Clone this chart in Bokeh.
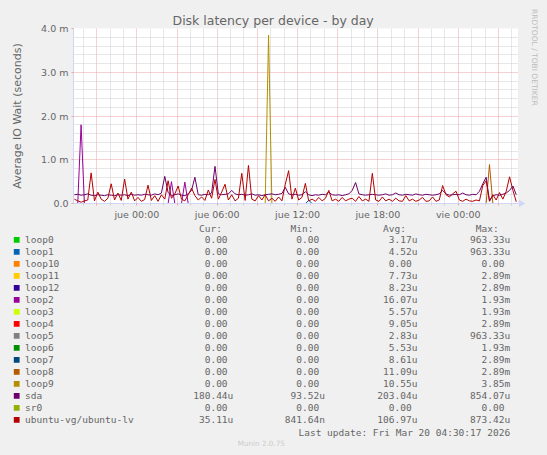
import math
from bokeh.plotting import figure
from bokeh.layouts import column, row
from bokeh.models import Range1d, FixedTicker
from bokeh.embed import file_html
from bokeh.resources import INLINE
from bokeh.core.properties import value

# ---------------- data (values in milliseconds) ----------------
# one sample every 15 min; first sample Wed 19:20 (hours relative to "jue 00:00")
first_sample_h = -4.0 - 40.0 / 60.0
sample_step_h = 0.25

ubuntu_lv_ms = [
    0.10, 0.06, 0.03, 0.06, 0.08, 0.70, 0.06, 0.26, 0.10, 0.05,
    0.12, 0.45, 0.08, 0.24, 0.07, 0.56, 0.10, 0.26, 0.06, 0.14,
    0.05, 0.09, 0.42, 0.07, 0.18, 0.05, 0.20, 0.10, 0.52, 0.12,
    0.22, 0.40, 0.10, 0.06, 0.20, 0.35, 0.18, 0.08, 0.15, 0.07,
    0.31, 0.12, 0.55, 0.10, 0.26, 0.44, 0.08, 0.20, 0.06, 0.12,
    0.69, 0.07, 0.87, 0.10, 0.06, 0.18, 0.08, 0.20, 0.06, 0.12,
    0.05, 0.15, 0.06, 0.44, 0.75, 0.10, 0.35, 0.08, 0.14, 0.46,
    0.06, 0.10, 0.05, 0.14, 0.06, 0.12, 0.30, 0.06, 0.10, 0.05,
    0.14, 0.06, 0.10, 0.12, 0.05, 0.16, 0.06, 0.10, 0.05, 0.69,
    0.08, 0.05, 0.15, 0.06, 0.10, 0.05, 0.12, 0.06, 0.05, 0.18,
    0.06, 0.10, 0.05, 0.08, 0.14, 0.05, 0.06, 0.15, 0.05, 0.08,
    0.41, 0.20, 0.15, 0.22, 0.28, 0.08, 0.05, 0.10, 0.06, 0.05,
    0.08, 0.06, 0.41, 0.52, 0.05, 0.20, 0.08, 0.25, 0.10, 0.28,
    0.61, 0.30, 0.04,
]

sda_ms = [
    0.20, 0.21, 0.19, 0.20, 0.22, 0.19, 0.18, 0.20, 0.19, 0.18,
    0.20, 0.19, 0.18, 0.20, 0.19, 0.20, 0.18, 0.21, 0.19, 0.20,
    0.19, 0.21, 0.20, 0.19, 0.22, 0.20, 0.24, 0.62, 0.25, 0.18,
    0.20, 0.22, 0.19, 0.18, 0.22, 0.30, 0.60, 0.20, 0.19, 0.21,
    0.20, 0.24, 0.85, 0.22, 0.20, 0.21, 0.22, 0.30, 0.22, 0.20,
    0.21, 0.19, 0.20, 0.22, 0.19, 0.20, 0.18, 0.20, 0.21, 0.22,
    0.20, 0.21, 0.23, 0.37, 0.22, 0.20, 0.21, 0.19, 0.20, 0.27,
    0.20, 0.18, 0.20, 0.19, 0.21, 0.20, 0.26, 0.20, 0.19, 0.20,
    0.18, 0.20, 0.22, 0.30, 0.48, 0.22, 0.20, 0.19, 0.20, 0.21,
    0.20, 0.19, 0.20, 0.22, 0.19, 0.20, 0.24, 0.20, 0.19, 0.21,
    0.20, 0.19, 0.22, 0.20, 0.19, 0.21, 0.20, 0.19, 0.20, 0.22,
    0.30, 0.22, 0.19, 0.20, 0.21, 0.20, 0.24, 0.20, 0.19, 0.21,
    0.20, 0.28, 0.45, 0.60, 0.06, 0.18, 0.20, 0.19, 0.21, 0.24,
    0.30, 0.40, 0.20,
]

# sparse series: {sample index: value in ms}, zero elsewhere
loop1_spikes_ms = {70: 0.07}
loop2_spikes_ms = {2: 1.80, 29: 0.50, 33: 0.49}
loop8_spikes_ms = {124: 0.89}
loop9_spikes_ms = {58: 3.85}

series_names = ["loop0", "loop1", "loop10", "loop11", "loop12", "loop2", "loop3",
                "loop4", "loop5", "loop6", "loop7", "loop8", "loop9", "sda", "sr0",
                "ubuntu-vg/ubuntu-lv"]
series_colors = ["#00CC00", "#0066B3", "#FF8000", "#FFCC00", "#330099", "#990099",
                 "#CCFF00", "#FF0000", "#808080", "#008F00", "#00487D", "#B35A00",
                 "#B38F00", "#6B006B", "#8FB300", "#B30000"]
cur_values = ["0.00", "0.00", "0.00", "0.00", "0.00", "0.00", "0.00", "0.00",
              "0.00", "0.00", "0.00", "0.00", "0.00", "180.44u", "0.00", "35.11u"]
min_values = ["0.00", "0.00", "0.00", "0.00", "0.00", "0.00", "0.00", "0.00",
              "0.00", "0.00", "0.00", "0.00", "0.00", "93.52u", "0.00", "841.64n"]
avg_values = ["3.17u", "4.52u", "0.00", "7.73u", "8.23u", "16.07u", "5.57u", "9.05u",
              "2.83u", "5.53u", "8.61u", "11.09u", "10.55u", "203.04u", "0.00", "106.97u"]
max_values = ["963.33u", "963.33u", "0.00", "2.89m", "2.89m", "1.93m", "1.93m", "2.89m",
              "963.33u", "1.93m", "2.89m", "2.89m", "3.85m", "854.07u", "0.00", "873.42u"]

x_label_hours = [0, 6, 12, 18, 24]
x_tick_labels = ["jue 00:00", "jue 06:00", "jue 12:00", "jue 18:00", "vie 00:00"]
y_tick_values = [0.0, 0.001, 0.002, 0.003, 0.004]
y_tick_labels = ["0.0", "1.0 m", "2.0 m", "3.0 m", "4.0 m"]

title_text = "Disk latency per device - by day"
y_label_text = "Average IO Wait (seconds)"
side_text = "RRDTOOL / TOBI OETIKER"
last_update_text = "Last update: Fri Mar 20 04:30:17 2026"
version_text = "Munin 2.0.75"

# ---------------- styling ----------------
FONT = "DejaVu Sans"
MONO = "DejaVu Sans Mono"
FONT_COLOR = "#666666"
AXIS_COLOR = "#CFD6F8"
MGRID = "#EBA3A3"
GRID = "#CFCFCF"
BG = "#F0F0F0"

X0, X1 = -4.733, 28.5
Y0, Y1 = 0.0, 0.004

n = len(sda_ms)
hours = [first_sample_h + i * sample_step_h for i in range(n)]
dense = {"sda": sda_ms, "ubuntu-vg/ubuntu-lv": ubuntu_lv_ms}
sparse = {"loop1": loop1_spikes_ms, "loop2": loop2_spikes_ms,
          "loop8": loop8_spikes_ms, "loop9": loop9_spikes_ms}

# ---------------- main chart (page x 8..518, y 8..222) ----------------
p = figure(width=510, height=214,
           x_range=Range1d(X0, X1), y_range=Range1d(Y0, Y1),
           output_backend="svg", toolbar_location=None, frame_align=False,
           min_border_left=59, min_border_right=0, min_border_top=20, min_border_bottom=19,
           background_fill_color="white", border_fill_color=BG, outline_line_color=None)

p.title.text = title_text
p.title.align = "left"
p.title.offset = 99
p.title.standoff = 1
p.title.text_font = FONT
p.title.text_font_size = "12.5px"
p.title.text_font_style = "normal"
p.title.text_color = FONT_COLOR

# grids
maj_x = list(range(-3, 29, 3))
min_x = [h for h in range(-4, 29) if h % 3]
p.xgrid.ticker = FixedTicker(ticks=maj_x, minor_ticks=min_x)
y_minor = [k * 0.0002 for k in range(1, 20) if k % 5]
for g in (p.xgrid, p.ygrid):
    g.grid_line_color = MGRID
    g.grid_line_dash = "1 1"
    g.grid_line_width = 1
    g.minor_grid_line_color = GRID
    g.minor_grid_line_dash = "1 1"
    g.minor_grid_line_width = 1

# x axis
p.xaxis.ticker = FixedTicker(ticks=maj_x, minor_ticks=min_x)
overrides = {h: "" for h in maj_x}
for h, lab in zip(x_label_hours, x_tick_labels):
    overrides[h] = lab
p.xaxis.major_label_overrides = overrides
p.xaxis.axis_line_color = AXIS_COLOR
p.xaxis.major_tick_line_color = MGRID
p.xaxis.minor_tick_line_color = GRID
p.xaxis.major_tick_out = 2
p.xaxis.major_tick_in = 0
p.xaxis.minor_tick_out = 2
p.xaxis.minor_tick_in = 0
p.xaxis.major_label_standoff = 3
p.xaxis.major_label_text_font = FONT
p.xaxis.major_label_text_font_size = "9.5px"
p.xaxis.major_label_text_color = FONT_COLOR

# y axis
p.yaxis.ticker = FixedTicker(ticks=y_tick_values, minor_ticks=y_minor)
p.yaxis.major_label_overrides = {v: lab for v, lab in zip(y_tick_values, y_tick_labels)}
p.yaxis.axis_line_color = AXIS_COLOR
p.yaxis.major_tick_line_color = MGRID
p.yaxis.major_tick_out = 2
p.yaxis.major_tick_in = 0
p.yaxis.minor_tick_out = 0
p.yaxis.minor_tick_in = 0
p.yaxis.major_label_standoff = 3
p.yaxis.major_label_text_font = FONT
p.yaxis.major_label_text_font_size = "9.5px"
p.yaxis.major_label_text_color = FONT_COLOR
p.yaxis.axis_label = y_label_text
p.yaxis.axis_label_text_font = FONT
p.yaxis.axis_label_text_font_size = "11px"
p.yaxis.axis_label_text_font_style = "normal"
p.yaxis.axis_label_text_color = FONT_COLOR
p.yaxis.axis_label_standoff = 14

# series lines (drawn in legend order like munin)
for name, color in zip(series_names, series_colors):
    if name in dense:
        vals_ms = dense[name]
    else:
        spikes = sparse.get(name, {})
        vals_ms = [spikes.get(i, 0.0) for i in range(n)]
    p.line(hours, [v * 1e-3 for v in vals_ms], line_color=color, line_width=1)

# ---------------- right strip (page x 518..539, y 8..222) ----------------
side = figure(width=21, height=214, x_range=Range1d(518, 539), y_range=Range1d(222, 8),
              output_backend="svg", toolbar_location=None, min_border=0, frame_align=False,
              x_axis_location=None, y_axis_location=None,
              background_fill_color=BG, border_fill_color=BG, outline_line_color=None)
side.xgrid.visible = False
side.ygrid.visible = False
side.segment(x0=[518], y0=[203], x1=[520], y1=[203], line_color=AXIS_COLOR, line_width=1)
side.scatter(x=[520.5], y=[203], marker="triangle", size=6, angle=-math.pi / 2,
             fill_color=AXIS_COLOR, line_color=AXIS_COLOR)
side.text(x=[534.3], y=[8.5], text=[side_text], angle=-math.pi / 2,
          text_font=value(FONT), text_font_size="7.5px", text_align="left",
          text_baseline="middle", text_color="#BDBDBD")

# ---------------- legend table (page-pixel coordinates) ----------------
lg = figure(width=531, height=225, x_range=Range1d(8, 539), y_range=Range1d(447, 222),
            output_backend="svg", toolbar_location=None, min_border=0, frame_align=False,
            x_axis_location=None, y_axis_location=None,
            background_fill_color=BG, border_fill_color=BG, outline_line_color=None)
lg.xgrid.visible = False
lg.ygrid.visible = False

CW = 0.602 * 9.5
row_y = [239.3 + 12.0 * k for k in range(len(series_names))]
lg.rect(x=[16.2] * len(row_y), y=row_y, width=5.8, height=5.8,
        fill_color=series_colors, line_color=None)
lg.text(x=[24.5] * len(row_y), y=row_y, text=series_names, text_font=value(MONO),
        text_font_size="9.5px", text_baseline="middle", text_align="left",
        text_color=FONT_COLOR)

col_ends = [232.8, 324.4, 416.9, 509.6]
headers = ["Cur:", "Min:", "Avg:", "Max:"]
tx, ty, tt = [], [], []
for ce, head, vals in zip(col_ends, headers, [cur_values, min_values, avg_values, max_values]):
    tx.append(ce - 2 * CW)
    ty.append(227.7)
    tt.append(head)
    for k, s in enumerate(vals):
        tx.append(ce if s[-1].isalpha() else ce - CW)
        ty.append(row_y[k])
        tt.append(s)
tx.append(509.6)
ty.append(431.7)
tt.append(last_update_text)
lg.text(x=tx, y=ty, text=tt, text_font=value(MONO), text_font_size="9.5px",
        text_baseline="middle", text_align="right", text_color=FONT_COLOR)
lg.text(x=[260.8], y=[442.8], text=[version_text], text_font=value(FONT),
        text_font_size="7.2px", text_baseline="middle", text_align="center",
        text_color="#CCCCCC")

layout = column(row(p, side), lg)
TEMPLATE = ("{% block postamble %}<style>html{background:#F0F0F0;}"
            "body{margin:8px !important;background:#F0F0F0;}</style>{% endblock %}")
open("out.html", "w").write(file_html(layout, INLINE, template=TEMPLATE))
